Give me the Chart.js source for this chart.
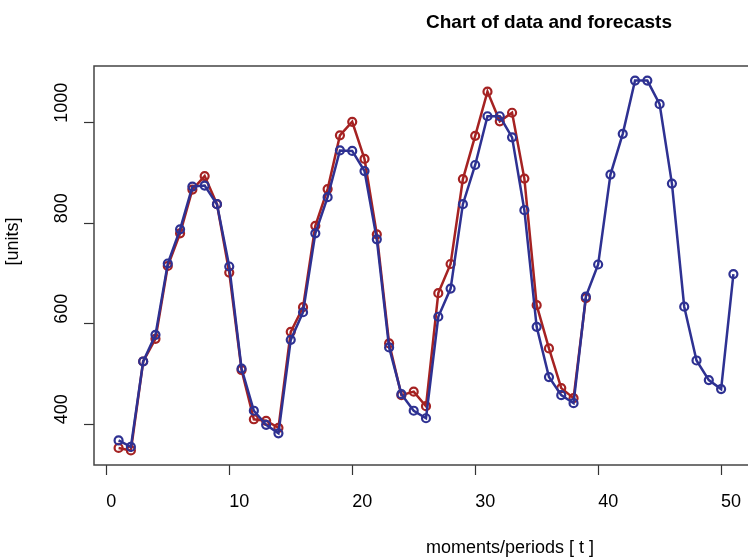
<!DOCTYPE html>
<html>
<head>
<meta charset="utf-8">
<title>Chart of data and forecasts</title>
<script src="https://cdn.jsdelivr.net/npm/chart.js@4.4.1/dist/chart.umd.min.js"></script>
<style>
  html, body { margin: 0; padding: 0; background: #fff; overflow: hidden; }
  #wrap { width: 770px; height: 558px; }
</style>
</head>
<body>
<div id="wrap"><canvas id="myChart" width="770" height="558"></canvas></div>
<script>
// periods 1..51
var periods = [1, 2, 3, 4, 5, 6, 7, 8, 9, 10, 11, 12, 13, 14, 15, 16, 17, 18, 19, 20,
    21, 22, 23, 24, 25, 26, 27, 28, 29, 30, 31, 32, 33, 34, 35, 36, 37, 38, 39, 40,
    41, 42, 43, 44, 45, 46, 47, 48, 49, 50, 51];

// red line, observed data (t = 1..39)
var dataValues = [353, 348, 525, 570, 715, 780, 867, 894, 838, 702,
    508, 410, 407, 393, 584, 633, 795, 868, 975, 1002,
    928, 778, 561, 458, 465, 436, 661, 719, 888, 974,
    1062, 1003, 1020, 889, 637, 551, 472, 452, 651];

// blue line, forecasts (t = 1..51)
var forecastValues = [368, 355, 525, 578, 720, 788, 873, 875, 838, 714,
    511, 427, 399, 382, 568, 623, 780, 852, 945, 944,
    904, 768, 553, 460, 427, 412, 614, 670, 838, 916,
    1013, 1013, 971, 826, 594, 494, 458, 442, 654, 718,
    897, 978, 1084, 1084, 1037, 879, 634, 527, 488, 470, 699];

var xTicks = [0, 10, 20, 30, 40, 50];
var yTicks = [400, 600, 800, 1000];

var titleText = 'Chart of data and forecasts';
var xTitle = 'moments/periods [ t ]';
var yTitle = '[units]';

var RED = '#A52222';
var BLUE = '#2E3192';
var FONT = '"Liberation Sans", Arial, Helvetica, sans-serif';

function toPoints(vals) {
    var pts = [];
    for (var i = 0; i < vals.length; i++) {
        pts.push({ x: periods[i], y: vals[i] });
    }
    return pts;
}

// box, titles and the rotated y labels, R style
var rDecor = {
    id: 'rDecor',
    afterDraw: function (chart) {
        var ctx = chart.ctx;
        var a = chart.chartArea;
        var cx = (a.left + a.right) / 2;
        var cy = (a.top + a.bottom) / 2;
        ctx.save();
        ctx.strokeStyle = '#444';
        ctx.lineWidth = 1.5;
        ctx.strokeRect(a.left, a.top, a.right - a.left, a.bottom - a.top);

        ctx.fillStyle = '#000';
        ctx.textAlign = 'left';
        ctx.textBaseline = 'alphabetic';
        ctx.font = 'bold 19px ' + FONT;
        ctx.fillText(titleText, cx, 28);

        ctx.font = '18px ' + FONT;
        ctx.fillText(xTitle, cx, 553);

        ctx.save();
        ctx.translate(18, cy);
        ctx.rotate(-Math.PI / 2);
        ctx.fillText(yTitle, 0, 0);
        ctx.restore();

        var ys = chart.scales.y;
        for (var i = 0; i < yTicks.length; i++) {
            ctx.save();
            ctx.translate(67, ys.getPixelForValue(yTicks[i]));
            ctx.rotate(-Math.PI / 2);
            ctx.fillText(String(yTicks[i]), 0, 0);
            ctx.restore();
        }
        ctx.restore();
    }
};

var ctx = document.getElementById('myChart').getContext('2d');
var myChart = new Chart(ctx, {
    type: 'line',
    data: {
        datasets: [
            {
                label: 'forecasts',
                data: toPoints(forecastValues),
                borderColor: BLUE,
                borderWidth: 2.5,
                pointRadius: 4,
                pointBorderWidth: 2.2,
                pointBorderColor: BLUE,
                pointBackgroundColor: 'rgba(0,0,0,0)',
                tension: 0,
                order: 0
            },
            {
                label: 'data',
                data: toPoints(dataValues),
                borderColor: RED,
                borderWidth: 2.5,
                pointRadius: 4,
                pointBorderWidth: 2.2,
                pointBorderColor: RED,
                pointBackgroundColor: 'rgba(0,0,0,0)',
                tension: 0,
                order: 1
            }
        ]
    },
    options: {
        responsive: false,
        animation: false,
        devicePixelRatio: 1,
        layout: { padding: { left: 0, right: 12, top: 66, bottom: 0 } },
        plugins: {
            legend: { display: false },
            tooltip: { enabled: false },
            title: { display: false }
        },
        scales: {
            x: {
                type: 'linear',
                min: -1,
                max: 53,
                afterBuildTicks: function (s) {
                    s.ticks = xTicks.map(function (v) { return { value: v }; });
                },
                afterFit: function (s) { s.height = 93; },
                border: { display: false },
                grid: {
                    drawOnChartArea: false,
                    drawTicks: true,
                    tickLength: 10,
                    tickColor: '#333',
                    tickWidth: 1.2
                },
                ticks: {
                    autoSkip: false,
                    maxRotation: 0,
                    align: 'start',
                    padding: 16,
                    color: '#000',
                    font: { family: FONT, size: 18 }
                }
            },
            y: {
                type: 'linear',
                min: 319,
                max: 1113,
                afterBuildTicks: function (s) {
                    s.ticks = yTicks.map(function (v) { return { value: v }; });
                },
                afterFit: function (s) { s.width = 94; },
                border: { display: false },
                grid: {
                    drawOnChartArea: false,
                    drawTicks: true,
                    tickLength: 10,
                    tickColor: '#333',
                    tickWidth: 1.2
                },
                ticks: { display: false }
            }
        }
    },
    plugins: [rDecor]
});
</script>
</body>
</html>
